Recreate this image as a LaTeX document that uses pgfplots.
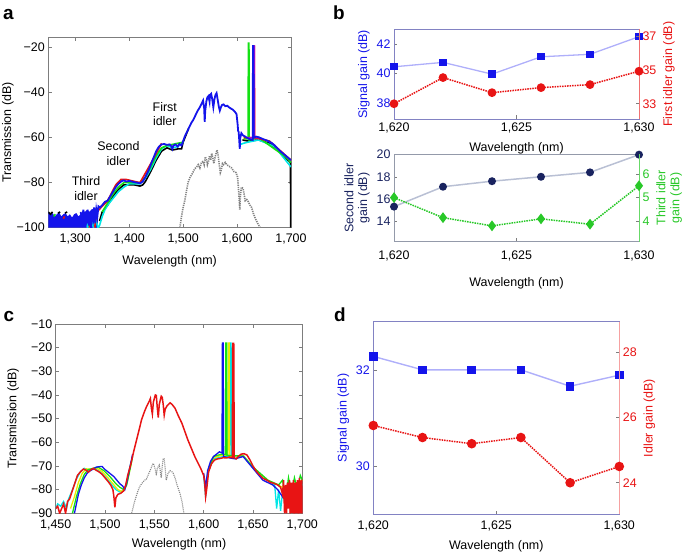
\documentclass[border=0pt]{standalone}
\usepackage{pgfplots}
\pgfplotsset{compat=1.18}
\usepackage{fontspec}
\setmainfont{Liberation Sans}
\definecolor{sigblue}{RGB}{20,20,235}
\definecolor{siglight}{RGB}{175,175,250}
\definecolor{idred}{RGB}{232,20,20}
\definecolor{navy}{RGB}{25,35,95}
\definecolor{navylight}{RGB}{185,192,212}
\definecolor{idgreen}{RGB}{40,200,40}
\definecolor{axgray}{RGB}{125,125,125}
\definecolor{frameblue}{RGB}{130,130,195}
\definecolor{tracegray}{RGB}{130,130,130}
\definecolor{tyellow}{RGB}{235,235,0}
\definecolor{tcyan}{RGB}{0,230,230}
\definecolor{tgreen}{RGB}{20,225,20}
\definecolor{tmag}{RGB}{200,0,200}
\pgfplotsset{
  myax/.style={scale only axis, anchor=south west,
    axis line style={draw=axgray, line width=0.6bp},
    tick style={axgray, line width=0.5bp}, major tick length=3.5bp, tick align=inside,
    tick label style={font=\fontsize{12.5}{14}\selectfont},
    label style={font=\fontsize{12.5}{14}\selectfont},
    /pgf/number format/assume math mode=true,
    /pgf/number format/1000 sep={,},
    scaled ticks=false, unbounded coords=jump},
}
\begin{document}
\begin{tikzpicture}
\path[use as bounding box] (0bp,0bp) rectangle (685bp,553bp);
% ---------------- panel a
\begin{axis}[myax, at={(48.3bp,325.3bp)}, width=242.7bp, height=190.4bp,
  xmin=1250, xmax=1700, ymin=-100, ymax=-15.4,
  xtick={1300,1400,1500,1600,1700},
  ytick={-100,-80,-60,-40,-20}, yticklabels={−100,−80,−60,−40,−20},
  xticklabel style={yshift=-3bp}, xlabel style={yshift=-4bp},
  ylabel style={at={(axis description cs:-0.166,0.5)}, anchor=center},
  xlabel={Wavelength (nm)}, ylabel={Transmission (dB)}]
\addplot[draw=none, fill=sigblue] coordinates {(1250,-100)(1250,-93)(1254,-94.5)(1258,-93.5)(1262,-95)(1266,-94)(1270,-93)(1274,-95)(1278,-94)(1282,-93.5)(1286,-95)(1290,-94)(1294,-95.5)(1298,-94)(1302,-93.5)(1306,-95)(1310,-94)(1314,-92.5)(1318,-93)(1322,-92)(1326,-93)(1330,-92)(1334,-91.5)(1338,-92)(1342,-91)(1342,-100)};
\addplot[black, line width=1.6bp] coordinates {(1250,-93)(1254,-94)(1258,-93)(1262,nan)(1268,-93.5)(1272,-93)(1276,nan)(1281,-93.5)(1285,-93)(1289,nan)(1345,-97)(1350,-93)(1360,-90)(1370,-86)(1380,-83)(1390,-81)(1400,-81)(1410,-81)(1420,-81.5)(1425,-81)(1430,-79.5)(1440,-75)(1450,-70)(1460,-66)(1470,-64.5)(1480,-65.5)(1490,-65)(1497,-65)(1500,-62)(1510,-56)(1515,nan)(1610,-61)(1620,-61.5)(1640,-61)(1660,-62.5)(1680,-66.5)(1690,-69)(1699,-71)(1699.5,-100)};
\addplot[tcyan, line width=1.6bp] coordinates {(1322,-100)(1324,-97)(1326,-100)(1330,-97)(1334,-100)(1338,-96)(1342,-100)(1345,-99)(1350,-95)(1355,-92)(1360,-90)(1370,-87)(1380,-84)(1390,-82)(1400,-80.5)(1420,-80.5)(1430,-78)(1440,-74)(1450,-69)(1460,-65)(1470,-63.5)(1480,-64.5)(1490,-64)(1500,-62)(1505,nan)(1606,-63)(1612,-62.5)(1620,-62)(1640,-61)(1670,-64)(1690,-70)(1700,-73)};
\addplot[tgreen, line width=1.6bp] coordinates {(1260,-95)(1263,-94)(1266,nan)(1350,-93)(1360,-89)(1370,-85)(1380,-82)(1390,-80)(1420,-80)(1430,-77.5)(1440,-73)(1450,-68)(1460,-64.5)(1470,-63.5)(1500,-62)(1505,nan)(1612,-60.5)(1620.5,-60.5)(1621,-18)(1622,-18)(1622.5,-61)(1640,-60)(1690,-68.5)(1700,-71)};
\addplot[idred, line width=1.6bp] coordinates {(1278,-96)(1280,-95)(1282,nan)(1326,-100)(1327,-95)(1328,-100)(1330,nan)(1336,-100)(1340,-93)(1360,-88)(1375,-81)(1385,-78.5)(1395,-78.6)(1420,-80)(1440,-71.5)(1460,-62.5)(1465,nan)(1612,-60)(1630.5,-60)(1631,-19.3)(1632,-19.3)(1632.5,-60)(1660,-61.5)(1700,-70)};
\addplot[tmag, line width=1.6bp] coordinates {(1620,-60)(1630.8,-60)(1631.2,-19.3)(1631.8,-19.3)(1632.2,-60)(1640,-60)};
\addplot[sigblue, line width=1.8bp] coordinates {(1310,-93)(1313,-97)(1315,-92)(1317,-99)(1319,-93)(1321,-98)(1323,-92)(1325,-99)(1327,-93)(1329,-100)(1331,-92)(1333,-96)(1335,-91)(1337,-98)(1339,-92)(1341,-95)(1343,-90.5)(1346,-91)(1350,-90)(1355,-88.5)(1360,-88)(1365,-86)(1370,-84)(1375,-82)(1380,-80.5)(1386,-79.3)(1390,-79)(1395,-79.5)(1400,-79.2)(1405,-79.5)(1410,-79.8)(1415,-80)(1420,-80.3)(1425,-79.5)(1430,-77.5)(1435,-75)(1440,-72)(1445,-69)(1450,-66)(1455,-64)(1460,-63)(1465,-62.8)(1470,-63.2)(1475,-63)(1478,-63.8)(1480,-65)(1482,-63.5)(1486,-63)(1490,-64)(1493,-62.8)(1497,-63.5)(1500,-61.5)(1503,-59.5)(1507,-57.5)(1511,-55.5)(1515,-53.5)(1519,-52)(1523,-50)(1527,-48)(1531,-46.5)(1535,-44.5)(1537,-43.5)(1539,-47)(1540,-53)(1541,-48)(1543,-44)(1545,-42)(1547,-41.5)(1549,-44)(1550,-41)(1552,-40.5)(1554,-43)(1556,-46.5)(1558,-43)(1560,-41)(1562,-40.2)(1564,-43)(1566,-46)(1568,-48)(1570,-46.5)(1572,-45.5)(1575,-45.2)(1578,-46)(1582,-45.8)(1585,-46.5)(1588,-47)(1592,-47.5)(1596,-48.5)(1599,-49.5)(1601,-54)(1602,-57)(1603,-57.5)(1604,-61)(1605,-65)(1606,-60)(1608,-58)(1611,-59)(1615,-59.5)(1618,-60)(1622,-60.5)(1626,-60.8)(1629,-61)(1629.5,-19.3)(1630.5,-19.3)(1631,-60)(1635,-59.5)(1640,-59.8)(1645,-60.3)(1650,-60.8)(1655,-61.2)(1660,-61.8)(1665,-62.5)(1670,-63.5)(1675,-64.8)(1680,-66)(1685,-67)(1690,-68)(1695,-69)(1700,-70)};
\addplot[tracegray, line width=1.6bp, dash pattern=on 1.2bp off 1bp] coordinates {(1494,-100)(1497,-95)(1500,-91)(1503,-88)(1506,-84)(1509,-80)(1513,-77.5)(1517,-76)(1521,-74)(1525,-73)(1528,-72)(1531,-73.5)(1534,-71)(1537,-70.5)(1539,-72)(1541,-68.5)(1543,-69.5)(1545,-72)(1547,-70.5)(1549,-68)(1551,-70)(1553,-67)(1555,-69)(1557,-71.5)(1559,-69)(1561,-67)(1563,-65.5)(1565,-68)(1567,-72)(1569,-75.5)(1571,-74)(1573,-71.5)(1575,-72)(1578,-71)(1581,-72)(1584,-72.5)(1587,-73)(1590,-73.5)(1594,-75)(1598,-75.5)(1601,-77.5)(1603,-84)(1605,-92)(1606,-86)(1608,-82)(1611,-82.5)(1613,-85)(1615,-88)(1618,-87.5)(1621,-88.5)(1624,-90)(1627,-91)(1630,-93.5)(1634,-96)(1638,-98)(1643,-100)};
\node[align=center, font=\fontsize{12.5}{15}\selectfont] at (axis cs:1466,-49.5) {First\\idler};
\node[align=center, font=\fontsize{12.5}{15}\selectfont] at (axis cs:1380,-67.2) {Second\\idler};
\node[align=center, font=\fontsize{12.5}{15}\selectfont] at (axis cs:1320,-82.8) {Third\\idler};
\end{axis}
% ---------------- panel b top
\begin{axis}[myax, at={(394bp,434bp)}, width=245bp, height=89.7bp,
  xmin=1620, xmax=1630, xtick={1620,1625,1630}, xtick pos=bottom, ytick pos=left,
  ymin=36.9, ymax=43.0, ytick={38,40,42},
  axis line style={draw=frameblue}, yticklabel style={text=sigblue},
  xlabel style={yshift=-3bp},
  ylabel={Signal gain (dB)}, ylabel style={text=sigblue}, xlabel={Wavelength (nm)}]
\addplot[siglight, line width=1.3bp, mark=square*, mark size=3bp, mark options={draw=sigblue, fill=sigblue}] coordinates {(1620,40.45)(1622,40.75)(1624,39.95)(1626,41.13)(1628,41.3)(1630,42.5)};
\end{axis}
\begin{axis}[myax, at={(394bp,434bp)}, width=245bp, height=89.7bp,
  xmin=1620, xmax=1630, axis x line=none, axis y line*=right,
  ymin=32.09, ymax=37.44, ytick={33,35,37},
  axis line style={draw=idred!60}, yticklabel style={text=idred},
  ylabel={First idler gain (dB)}, ylabel style={text=idred}]
\addplot[idred, line width=1.5bp, densely dotted, mark=*, mark size=3.6bp, mark options={solid, draw=idred, fill=idred}] coordinates {(1620,33.0)(1622,34.56)(1624,33.66)(1626,33.96)(1628,34.14)(1630,34.94)};
\end{axis}
% ---------------- panel b bottom
\begin{axis}[myax, at={(394bp,311.3bp)}, width=245bp, height=87.7bp,
  xmin=1620, xmax=1630, xtick={1620,1625,1630}, xtick pos=bottom, ytick pos=left,
  ymin=12.13, ymax=20.06, ytick={14,16,18,20},
  axis line style={draw=navylight!80!black}, yticklabel style={text=navy},
  xticklabel style={yshift=-6bp}, xlabel style={yshift=-9bp},
  ylabel={Second idler\\gain (dB)}, ylabel style={text=navy, align=center}, xlabel={Wavelength (nm)}]
\addplot[navylight, line width=1.5bp, mark=*, mark size=3.2bp, mark options={draw=navy, fill=navy}] coordinates {(1620,15.3)(1622,17.1)(1624,17.6)(1626,18.0)(1628,18.4)(1630,20.0)};
\end{axis}
\begin{axis}[myax, at={(394bp,311.3bp)}, width=245bp, height=87.7bp,
  xmin=1620, xmax=1630, axis x line=none, axis y line*=right,
  ymin=3.11, ymax=6.87, ytick={4,5,6},
  axis line style={draw=idgreen!70}, yticklabel style={text=idgreen},
  ylabel={Third idler\\gain (dB)}, ylabel style={text=idgreen, align=center}]
\addplot[idgreen, line width=1.5bp, densely dotted, mark=diamond*, mark size=4.2bp, mark options={solid, draw=idgreen, fill=idgreen}] coordinates {(1620,5.0)(1622,4.14)(1624,3.79)(1626,4.09)(1628,3.86)(1630,5.51)};
\end{axis}
% ---------------- panel c
\begin{axis}[myax, at={(55.7bp,39.7bp)}, width=246.6bp, height=189.3bp,
  xmin=1450, xmax=1700, ymin=-90, ymax=-10,
  xtick={1450,1500,1550,1600,1650,1700},
  ytick={-90,-80,-70,-60,-50,-40,-30,-20,-10}, yticklabels={−90,−80,−70,−60,−50,−40,−30,−20,−10},
  xticklabel style={yshift=-3bp}, xlabel style={yshift=-2bp},
  ylabel style={at={(axis description cs:-0.173,0.5)}, anchor=center},
  xlabel={Wavelength (nm)}, ylabel={Transmission (dB)}]
\addplot[tcyan, line width=1.3bp] coordinates {(1450,-88)(1452,-86)(1455,-87)(1458,-85)(1461,-88)(1463,-84)(1467,-80)(1471,-75.5)(1475,-72.5)(1479,-71)(1484,-72)(1489,-71)(1495,-72.5)(1501,-75)(1507,-78)(1511,-80)(1515,-81)(1520,-80)(1523,-75)(1526,-69)(1530,nan)(1600,-74)(1602,-83)(1604,-73)(1610,-67)(1620,-66)(1626.5,-66)(1627,-18)(1627.8,-18)(1628.2,-66)(1640,-65.5)(1650,-70.5)(1665,-76)(1672,-78)(1674,-88)(1676,-80)(1678,-89)(1680,-81)(1683,-87)(1686,-78)(1689,-90)(1691,-80)(1695,-77)(1700,-78)};
\addplot[tyellow, line width=1.3bp] coordinates {(1465,-88)(1469,-83)(1473,-77)(1477,-73)(1481,-71.2)(1486,-71.5)(1491,-70.8)(1497,-72.3)(1503,-75)(1509,-78)(1513,-80)(1517,-80.8)(1521,-79)(1524,-74)(1527,-68)(1530,nan)(1605,-72)(1610,-66.5)(1618,-65.5)(1624.5,-65.5)(1625,-18)(1625.8,-18)(1626.2,-66)(1640,-65.5)(1650,-70.5)(1665,-76)(1680,-79)(1690,-78)(1700,-76)};
\addplot[tgreen, line width=1.3bp] coordinates {(1467,-90)(1471,-83)(1475,-77.5)(1479,-73.5)(1483,-71.5)(1488,-71)(1493,-70.5)(1499,-72)(1505,-74.5)(1511,-77.5)(1515,-79)(1519,-80)(1522,-78)(1525,-72)(1528,-66)(1530,nan)(1605,-71.5)(1610,-66)(1618,-65)(1622,-65.2)(1622.5,-18)(1623.3,-18)(1623.7,-65.5)(1640,-65.8)(1650,-70.5)(1665,-76)(1676,-78)(1680,-76)(1683,-84)(1686,-75)(1689,-82)(1692,-75)(1695,-80)(1698,-74)(1700,-76)};
\addplot[sigblue, line width=1.3bp] coordinates {(1469,-90)(1471,-86)(1473,-82)(1476,-78)(1479,-75)(1482,-73)(1485,-72)(1488,-71.3)(1491,-70.5)(1494,-70.3)(1497,-70.2)(1500,-71.5)(1503,-72.5)(1506,-73.5)(1509,-74.5)(1512,-76)(1515,-77.5)(1518,-78.5)(1520,-80)(1522,-77)(1525,-71)(1528,-65)(1530,nan)(1600,-73)(1602,-79)(1604,-72)(1607,-68)(1610,-66)(1613,-65)(1616,-64)(1618.6,-64.5)(1619,-18)(1619.8,-18)(1620.2,-66)(1625,-66.5)(1632,-67)(1640,-66)(1650,-71)(1660,-76)(1670,-78)(1675,-80)(1680,-83)(1682,-79)};
\addplot[draw=none, fill=idred] coordinates {(1687,-90)(1687,-78)(1690,-77)(1693,-77.5)(1696,-76)(1698,-76.5)(1700,-75.5)(1700,-90)};
\addplot[idred, line width=1.5bp] coordinates {(1450,-88)(1452,-87)(1454,-90)(1456,-88)(1458,-86)(1460,-90)(1462,-85)(1464,-84)(1466,-81.5)(1468,-79)(1470,-76.5)(1472,-74)(1475,-72.5)(1478,-71.3)(1481,-71.8)(1483,-72.6)(1486,-71.5)(1488,-71)(1491,-71.8)(1494,-72.5)(1497,-73.5)(1500,-75)(1503,-76.5)(1506,-78.2)(1508,-80)(1509,-83)(1510,-87.5)(1511,-83.5)(1513,-82)(1516,-81.5)(1519,-80.5)(1521,-78)(1523,-74)(1526,-69.5)(1529,-64)(1532,-59)(1535,-54)(1537,-50.5)(1540,-47)(1542,-45)(1545,-42.5)(1546,-41.5)(1547,-45.5)(1548,-48)(1549,-43)(1551,-40)(1552,-40.2)(1553,-45.5)(1554,-49.5)(1555,-44)(1557,-40.5)(1558,-41)(1559,-44)(1560,-48.5)(1561,-46)(1563,-44.5)(1566,-43.3)(1568,-44)(1571,-45.6)(1574,-48.5)(1578,-52)(1581,-55.5)(1584,-59)(1588,-63)(1591,-66)(1594,-68.5)(1597,-71)(1600,-74)(1601,-77)(1602,-83)(1603,-80)(1605,-72.5)(1608,-69)(1611,-67.5)(1614,-67)(1617,-66.8)(1620,-66.5)(1623,-66.6)(1626,-66.2)(1629,-66.5)(1629.5,-18.2)(1630.5,-18.2)(1631,-66.5)(1633,-67)(1635,-66)(1638,-65)(1641,-64.8)(1644,-65.4)(1647,-67.5)(1650,-70)(1653,-72)(1656,-73.5)(1660,-75.2)(1664,-76)(1668,-77)(1671,-77.3)(1675,-78)(1678,-79)(1680,-82)(1681,-76)(1682,-90)(1683,-78)(1684,-90)(1685,-77)(1686,-88)(1687,-76)(1688,-90)(1689,-77)(1690,-89)(1691,-76)(1692,-90)(1693,-77)(1694,-88)(1695,-76)(1696,-90)(1697,-75)(1698,-89)(1699,-76)(1700,-90)};
\addplot[tracegray, line width=1.1bp, dash pattern=on 1bp off 1bp] coordinates {(1527,-90)(1530,-85)(1533,-81)(1535,-78.8)(1538,-77)(1540,-76)(1542,-75.6)(1544,-73.5)(1546,-71.7)(1548,-69.5)(1549,-68.9)(1551,-71.5)(1552,-74)(1553,-71)(1555,-69.6)(1556,-72)(1557,-75)(1558,-70)(1559,-66.8)(1560,-67)(1561,-71)(1562,-76)(1564,-73)(1566,-72)(1568,-72.5)(1569,-73)(1571,-75)(1573,-78)(1576,-81.6)(1578,-85)(1580,-90)};
\end{axis}
% ---------------- panel d
\begin{axis}[myax, at={(373.3bp,38.7bp)}, width=246bp, height=192.6bp,
  xmin=1620, xmax=1630, xtick={1620,1625,1630}, xtick pos=bottom, ytick pos=left,
  ymin=29, ymax=33, ytick={30,32},
  axis line style={draw=frameblue}, yticklabel style={text=sigblue},
  xticklabel style={yshift=-3bp}, xlabel style={yshift=-3bp},
  ylabel={Signal gain (dB)}, ylabel style={text=sigblue}, xlabel={Wavelength (nm)}]
\addplot[siglight, line width=1.4bp, mark=square*, mark size=3.6bp, mark options={draw=sigblue, fill=sigblue}] coordinates {(1620,32.28)(1622,32.0)(1624,32.0)(1626,32.0)(1628,31.66)(1630,31.89)};
\end{axis}
\begin{axis}[myax, at={(373.3bp,38.7bp)}, width=246bp, height=192.6bp,
  xmin=1620, xmax=1630, axis x line=none, axis y line*=right,
  ymin=23.03, ymax=28.95, ytick={24,26,28},
  axis line style={draw=idred!40}, yticklabel style={text=idred},
  ylabel={Idler gain (dB)}, ylabel style={text=idred}]
\addplot[idred, line width=1.5bp, densely dotted, mark=*, mark size=4bp, mark options={solid, draw=idred, fill=idred}] coordinates {(1620,25.76)(1622,25.39)(1624,25.2)(1626,25.39)(1628,24.0)(1630,24.5)};
\end{axis}
% ---------------- panel letters
\node[anchor=base, font=\fontsize{19}{19}\bfseries] at (8.5bp,533.7bp) {a};
\node[anchor=base, font=\fontsize{19}{19}\bfseries] at (339bp,533.7bp) {b};
\node[anchor=base, font=\fontsize{19}{19}\bfseries] at (9bp,231.3bp) {c};
\node[anchor=base, font=\fontsize{19}{19}\bfseries] at (340bp,231.3bp) {d};
\end{tikzpicture}
\end{document}
